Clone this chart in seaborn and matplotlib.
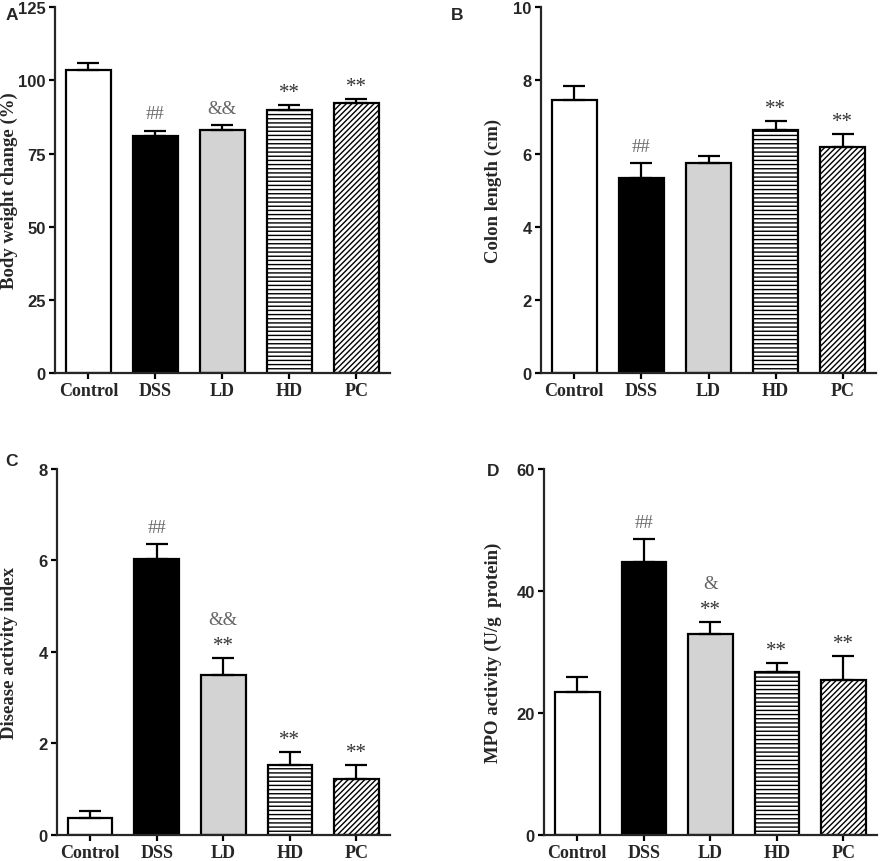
import numpy as np
import pandas as pd
import seaborn as sns
import matplotlib.pyplot as plt

# dados
groups = ["Control", "DSS", "LD", "HD", "PC"]

body_weight = [103.6, 81.0, 83.0, 89.8, 92.1]
body_weight_err = [2.4, 1.8, 1.6, 1.6, 1.6]

colon_length = [7.47, 5.33, 5.73, 6.65, 6.17]
colon_length_err = [0.37, 0.41, 0.21, 0.25, 0.37]

dai = [0.37, 6.03, 3.50, 1.52, 1.22]
dai_err = [0.15, 0.32, 0.36, 0.28, 0.30]

mpo = [23.4, 44.8, 33.0, 26.7, 25.4]
mpo_err = [2.4, 3.7, 1.9, 1.5, 4.0]

sig_a = [[], ["##"], ["&&"], ["**"], ["**"]]
sig_b = [[], ["##"], [], ["**"], ["**"]]
sig_c = [[], ["##"], ["**", "&&"], ["**"], ["**"]]
sig_d = [[], ["##"], ["**", "&"], ["**"], ["**"]]

fills = ["white", "black", "#d3d3d3", "white", "white"]
hatches = ["", "", "", "----", "//////"]

sns.set_style("ticks")
plt.rcParams["hatch.linewidth"] = 1.0
plt.rcParams["font.family"] = ["DejaVu Sans"]

fig = plt.figure(figsize=(8.81, 8.62), dpi=100)

panels = [
    ("A", body_weight, body_weight_err, sig_a, "Body weight change (%)", [0, 25, 50, 75, 100, 125],
     [0.0624, 0.566, 0.380, 0.4246], -0.11),
    ("B", colon_length, colon_length_err, sig_b, "Colon length (cm)", [0, 2, 4, 6, 8, 10],
     [0.6137, 0.566, 0.381, 0.4246], -0.116),
    ("C", dai, dai_err, sig_c, "Disease activity index", [0, 2, 4, 6, 8],
     [0.0644, 0.0305, 0.378, 0.4242], -0.116),
    ("D", mpo, mpo_err, sig_d, "MPO activity (U/g  protein)", [0, 20, 40, 60],
     [0.6175, 0.0305, 0.3776, 0.4242], -0.127),
]
letter_pos = {"A": (12, 15), "B": (457, 15), "C": (12, 462), "D": (493, 472)}

for letter, vals, errs, sigs, ylab, yt, rect, labx in panels:
    ax = fig.add_axes(rect)
    df = pd.DataFrame({"group": groups, "value": vals})
    sns.barplot(data=df, x="group", y="value", hue="group", palette=fills, legend=False,
                edgecolor="black", linewidth=1.6, width=0.67, errorbar=None, ax=ax)
    for p, h in zip(ax.patches, hatches):
        p.set_hatch(h)
    ax.errorbar(range(len(groups)), vals, yerr=[np.zeros(len(vals)), errs], fmt="none",
                ecolor="black", elinewidth=1.6, capsize=8, capthick=1.6, zorder=3)
    ax.set_xlim(-0.5, 4.5)
    ax.set_ylim(yt[0], yt[-1])
    ax.set_yticks(yt)
    ax.set_xlabel("")
    ax.set_ylabel(ylab, family="Liberation Serif", fontweight="bold", fontsize=13.5)
    ax.yaxis.set_label_coords(labx, 0.5)
    sns.despine(ax=ax)
    for s in ["left", "bottom"]:
        ax.spines[s].set_linewidth(1.6)
    ax.tick_params(axis="both", width=1.6, length=4.5, color="black", pad=2)
    for t in ax.get_yticklabels():
        t.set_fontweight("bold")
        t.set_fontsize(12)
        t.set_family("Liberation Sans")
    for t in ax.get_xticklabels():
        t.set_fontweight("bold")
        t.set_fontsize(13)
        t.set_family("Liberation Serif")

    # marcas de significância
    for i, marks in enumerate(sigs):
        top = vals[i] + errs[i]
        for k, m in enumerate(marks):
            star = m == "**"
            col = "#333333" if star else "#666666"
            off = (9 if star else 12) + 16 * k
            ax.annotate(m, (i, top), xytext=(0, off), textcoords="offset points",
                        ha="center", va="center", fontsize=15 if star else 13.5,
                        family="Liberation Serif", color=col)

    fig.text(letter_pos[letter][0] / 881, 1 - letter_pos[letter][1] / 862, letter,
             fontsize=12.5, fontweight="bold", family="Liberation Sans", ha="center", va="center")

fig.savefig("out.png", dpi=100)
